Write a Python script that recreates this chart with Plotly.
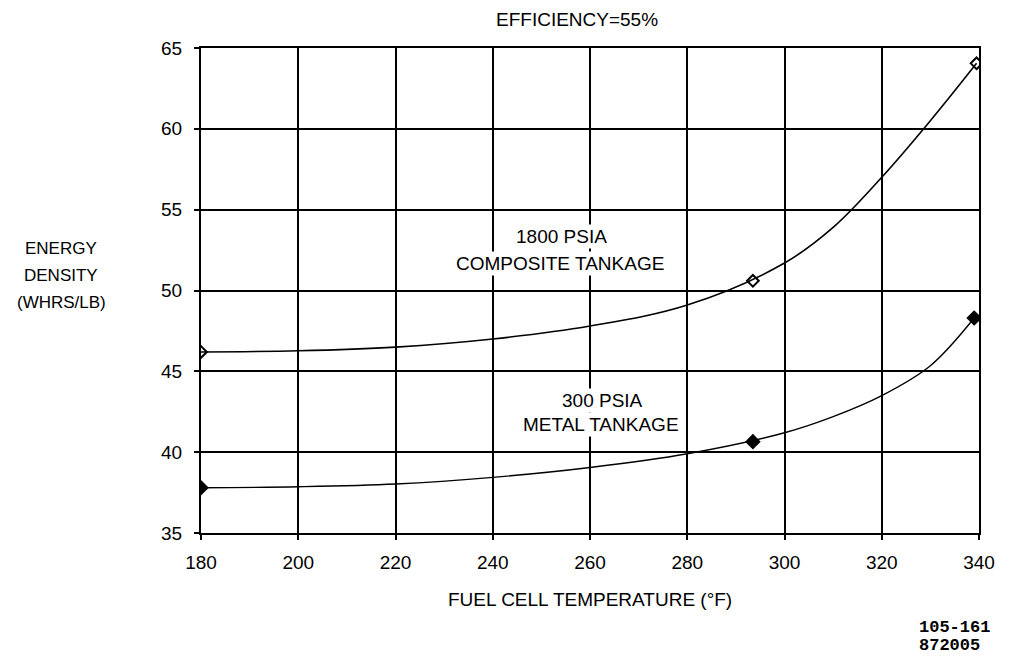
import plotly.graph_objects as go

# Curve traces
curve1_x = [180, 200, 220, 240, 260, 280, 300, 310, 320, 330, 339.5]
curve1_y = [46.2, 46.27, 46.5, 47.0, 47.8, 49.1, 51.7, 53.9, 57.0, 60.5, 64.05]
curve2_x = [180, 200, 220, 240, 260, 280, 300, 310, 320, 330, 339]
curve2_y = [37.8, 37.86, 38.03, 38.44, 39.05, 39.9, 41.2, 42.2, 43.5, 45.35, 48.3]

# Data points (markers)
pts1_x = [180, 293.5, 339.5]
pts1_y = [46.2, 50.6, 64.05]
pts2_x = [180, 293.5, 339]
pts2_y = [37.8, 40.65, 48.3]

x_ticks = [180, 200, 220, 240, 260, 280, 300, 320, 340]
y_ticks = [35, 40, 45, 50, 55, 60, 65]

FONT = "Liberation Sans"

fig = go.Figure()
fig.add_trace(go.Scatter(x=curve1_x, y=curve1_y, mode="lines",
                         line=dict(color="black", width=1.6, shape="spline", smoothing=1.0),
                         hoverinfo="skip"))
fig.add_trace(go.Scatter(x=curve2_x, y=curve2_y, mode="lines",
                         line=dict(color="black", width=1.4, shape="spline", smoothing=1.0),
                         hoverinfo="skip"))
fig.add_trace(go.Scatter(x=pts1_x, y=pts1_y, mode="markers",
                         marker=dict(symbol="diamond-open", size=9, color="black",
                                     line=dict(width=2, color="black"))))
fig.add_trace(go.Scatter(x=pts2_x, y=pts2_y, mode="markers",
                         marker=dict(symbol="diamond", size=12, color="black")))

axis_common = dict(showgrid=True, gridcolor="black", gridwidth=2,
                   showline=True, linecolor="black", linewidth=2, mirror=True,
                   ticks="outside", ticklen=5, tickwidth=2, tickcolor="black",
                   zeroline=False, tickfont=dict(family=FONT, size=19, color="black"))

fig.update_xaxes(range=[180, 340], tickvals=x_ticks, ticklabelstandoff=6,
                 **axis_common)
fig.update_yaxes(range=[35, 65], tickvals=y_ticks, ticklabelstandoff=8, **axis_common)

# Reference pixel geometry of the plot area (page offset of 8px handled in margins)
OFF = 8
W, H = 1010 - OFF, 657 - OFF
L, R, T, B = 201, 979, 48, 533


def px(x, y, text, size, family=FONT, xanchor="center", bg=None, weight="normal"):
    d = dict(text=text, xref="paper", yref="paper",
             x=(x - L) / (R - L), y=(B - y) / (B - T),
             xanchor=xanchor, yanchor="middle", showarrow=False,
             font=dict(family=family, size=size, color="black", weight=weight))
    if bg:
        d["bgcolor"] = bg
        d["borderpad"] = 1
    return d


annotations = [
    px(577, 20, "EFFICIENCY=55%", 19),
    px(61, 248, "ENERGY", 17),
    px(61, 275, "DENSITY", 17),
    px(61, 302, "(WHRS/LB)", 17),
    px(590, 599, "FUEL CELL TEMPERATURE (°F)", 19),
    px(561, 237, "1800 PSIA", 19, bg="white"),
    px(560, 263, "COMPOSITE TANKAGE", 19, bg="white"),
    px(602, 400, "300 PSIA", 19, bg="white"),
    px(601, 424, "METAL TANKAGE", 19, bg="white"),
    px(917, 627, "105-161", 17, family="Liberation Mono", xanchor="left", weight="bold"),
    px(917, 645, "872005", 17, family="Liberation Mono", xanchor="left", weight="bold"),
]

fig.update_layout(width=W, height=H,
                  margin=dict(l=L - OFF, r=1010 - R, t=T - OFF, b=657 - B),
                  plot_bgcolor="white", paper_bgcolor="white", showlegend=False,
                  annotations=annotations)

fig.write_html("out.html")
